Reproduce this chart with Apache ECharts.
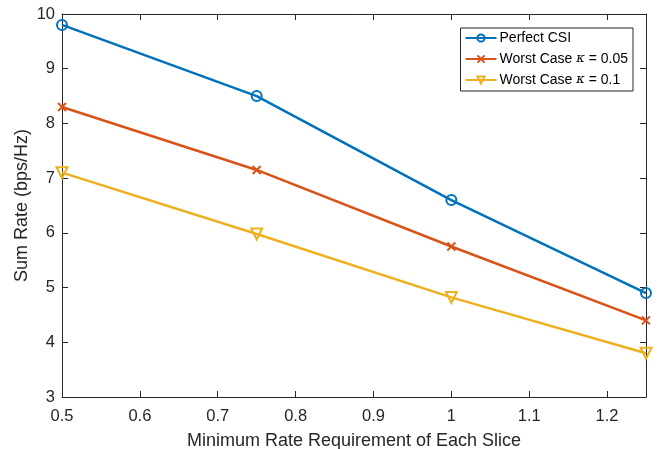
<!DOCTYPE html>
<html><head><meta charset="utf-8">
<script src="https://cdn.jsdelivr.net/npm/echarts@6/dist/echarts.min.js"></script>
<style>html,body{margin:0;padding:0;background:#fff}#c{width:668px;height:449px}</style>
</head><body><div id="c"></div>
<script>
const xValues = [0.5, 0.75, 1.0, 1.25];
const perfectCSI = [9.8, 8.5, 6.6, 4.9];
const worst005 = [8.3, 7.15, 5.75, 4.4];
const worst01 = [7.1, 5.98, 4.82, 3.8];
const seriesNames = ['Perfect CSI', 'Worst Case κ = 0.05', 'Worst Case κ = 0.1'];
const xAxisTitle = 'Minimum Rate Requirement of Each Slice';
const yAxisTitle = 'Sum Rate (bps/Hz)';

const font = 'Liberation Sans, Arial, Helvetica, sans-serif';
const axColor = '#262626';
function pairs(ys){ return xValues.map((x,i)=>[x, ys[i]]); }
function mk(name, data, color, symbol, size){
  return {
    name, type:'line', data:pairs(data), symbol, symbolSize:size,
    showAllSymbol:true,
    lineStyle:{color, width:2.5},
    itemStyle:{color:'none', borderColor:color, borderWidth:2},
    emphasis:{disabled:true}, z:3
  };
}
const chart = echarts.init(document.getElementById('c'), null, {renderer:'canvas'});
const axisCommon = {
  axisLine:{show:true, onZero:false, lineStyle:{color:axColor, width:1}},
  axisTick:{show:true, inside:true, length:6, lineStyle:{color:axColor}},
  splitLine:{show:false}
};
chart.setOption({
  animation:false,
  backgroundColor:'#fff',
  grid:{left:62, right:22, top:14, bottom:52, containLabel:false, outerBoundsMode:'none'},
  legend:{
    right:35, top:28, orient:'vertical', itemGap:7,
    backgroundColor:'#fff', borderColor:axColor, borderWidth:1,
    padding:[3,5,4,4], itemWidth:31, itemHeight:9,
    textStyle:{fontFamily:font, fontSize:14, color:'#000', padding:[0,0,0,-2],
      rich:{k:{fontFamily:'DejaVu Serif, serif', fontStyle:'italic', fontSize:13, color:'#000'}}},
    formatter: function(n){ return n.replace('κ','{k|κ}'); },
    data:seriesNames
  },
  xAxis:[
    Object.assign({type:'value', min:0.5, max:1.25, interval:0.1,
      name:xAxisTitle, nameLocation:'middle', nameGap:35, nameMoveOverlap:false,
      nameTextStyle:{fontFamily:font, fontSize:18, color:axColor},
      axisLabel:{fontFamily:font, fontSize:16.5, color:axColor, margin:11,
        showMaxLabel:false}}, axisCommon),
    Object.assign({type:'value', position:'top', min:0.5, max:1.25, interval:0.1,
      axisLabel:{show:false}}, axisCommon)
  ],
  yAxis:[
    Object.assign({type:'value', min:3, max:10, interval:1,
      name:yAxisTitle, nameLocation:'middle', nameGap:31, nameMoveOverlap:false,
      nameTextStyle:{fontFamily:font, fontSize:18, color:axColor},
      axisLabel:{fontFamily:font, fontSize:16.5, color:axColor, margin:7}}, axisCommon),
    Object.assign({type:'value', position:'right', min:3, max:10, interval:1,
      axisLabel:{show:false}}, axisCommon)
  ],
  series:[
    mk(seriesNames[0], perfectCSI, '#0072BD', 'circle', 10),
    mk(seriesNames[1], worst005, '#D95319', 'path://M0,0L10,10M10,0L0,10', 8),
    mk(seriesNames[2], worst01, '#EDB120', 'path://M0,0L10,0L5,8.66Z', 11)
  ]
});
</script></body></html>
